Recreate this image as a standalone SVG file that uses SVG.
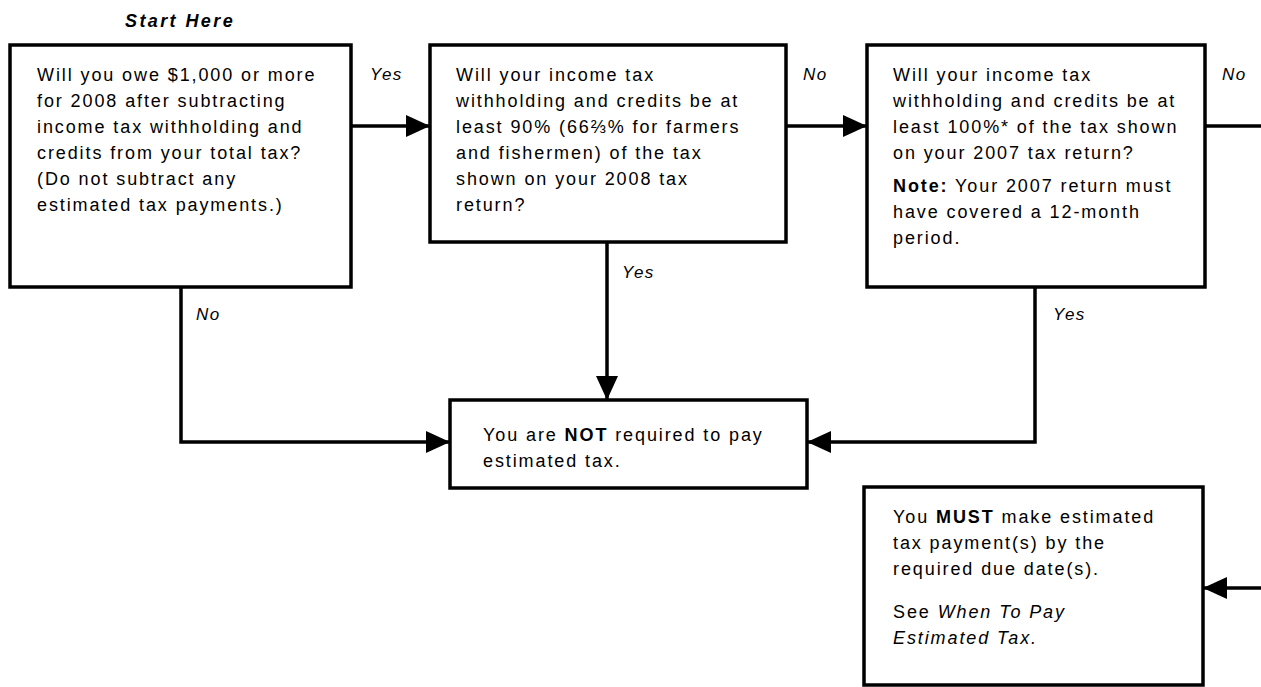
<svg xmlns="http://www.w3.org/2000/svg" width="1261" height="687" viewBox="0 0 1261 687">
<style>
.box{fill:#fff;stroke:#000;stroke-width:3.5}
.t{font-family:"Liberation Sans",Arial,sans-serif;font-size:18px;letter-spacing:1.9px;fill:#000}
.lbl{font-family:"Liberation Sans",Arial,sans-serif;font-size:17px;font-style:italic;letter-spacing:1.5px;fill:#000}
.st{font-size:18px;letter-spacing:2.4px}
.b{font-weight:bold}
.i{font-style:italic}
.c{fill:none;stroke:#000;stroke-width:3.5}
</style>
<defs>
<marker id="ah" markerUnits="userSpaceOnUse" markerWidth="24" markerHeight="22" refX="24" refY="11" orient="auto">
<path d="M0,0 L24,11 L0,22 z" fill="#000"/>
</marker>
</defs>
<rect width="1261" height="687" fill="#fff"/>
<text class="lbl b st" x="125" y="27">Start Here</text>
<g id="connectors">
<path class="c" d="M351,126 H430" marker-end="url(#ah)"/>
<path class="c" d="M786,126 H867" marker-end="url(#ah)"/>
<path class="c" d="M1205,126 H1261"/>
<path class="c" d="M607,242 V400" marker-end="url(#ah)"/>
<path class="c" d="M181,287 V442 H450" marker-end="url(#ah)"/>
<path class="c" d="M1035,287 V442 H807" marker-end="url(#ah)"/>
<path class="c" d="M1261,588 H1203" marker-end="url(#ah)"/>
<text class="lbl" x="370" y="80">Yes</text>
<text class="lbl" x="803" y="80">No</text>
<text class="lbl" x="1222" y="80">No</text>
<text class="lbl" x="622" y="278">Yes</text>
<text class="lbl" x="196" y="320">No</text>
<text class="lbl" x="1053" y="320">Yes</text>
</g>
<g id="q1">
<rect class="box" x="10" y="45" width="341" height="242"/>
<text class="t">
<tspan x="37" y="81">Will you owe $1,000 or more</tspan>
<tspan x="37" y="107">for 2008 after subtracting</tspan>
<tspan x="37" y="133">income tax withholding and</tspan>
<tspan x="37" y="159">credits from your total tax?</tspan>
<tspan x="37" y="185">(Do not subtract any</tspan>
<tspan x="37" y="211">estimated tax payments.)</tspan>
</text>
</g>
<g id="q2">
<rect class="box" x="430" y="45" width="356" height="197"/>
<text class="t">
<tspan x="456" y="81">Will your income tax</tspan>
<tspan x="456" y="107">withholding and credits be at</tspan>
<tspan x="456" y="133">least 90% (66⅔% for farmers</tspan>
<tspan x="456" y="159">and fishermen) of the tax</tspan>
<tspan x="456" y="185">shown on your 2008 tax</tspan>
<tspan x="456" y="211">return?</tspan>
</text>
</g>
<g id="q3">
<rect class="box" x="867" y="45" width="338" height="242"/>
<text class="t">
<tspan x="893" y="81">Will your income tax</tspan>
<tspan x="893" y="107">withholding and credits be at</tspan>
<tspan x="893" y="133">least 100%* of the tax shown</tspan>
<tspan x="893" y="159">on your 2007 tax return?</tspan>
<tspan x="893" y="192"><tspan class="b">Note:</tspan> Your 2007 return must</tspan>
<tspan x="893" y="218">have covered a 12-month</tspan>
<tspan x="893" y="244">period.</tspan>
</text>
</g>
<g id="notRequired">
<rect class="box" x="450" y="400" width="357" height="88"/>
<text class="t">
<tspan x="483" y="441">You are <tspan class="b">NOT</tspan> required to pay</tspan>
<tspan x="483" y="467">estimated tax.</tspan>
</text>
</g>
<g id="mustPay">
<rect class="box" x="864" y="487" width="339" height="198"/>
<text class="t">
<tspan x="893" y="523">You <tspan class="b">MUST</tspan> make estimated</tspan>
<tspan x="893" y="549">tax payment(s) by the</tspan>
<tspan x="893" y="575">required due date(s).</tspan>
<tspan x="893" y="618">See <tspan class="i">When To Pay</tspan></tspan>
<tspan x="893" y="644" class="i">Estimated Tax.</tspan>
</text>
</g>
</svg>
